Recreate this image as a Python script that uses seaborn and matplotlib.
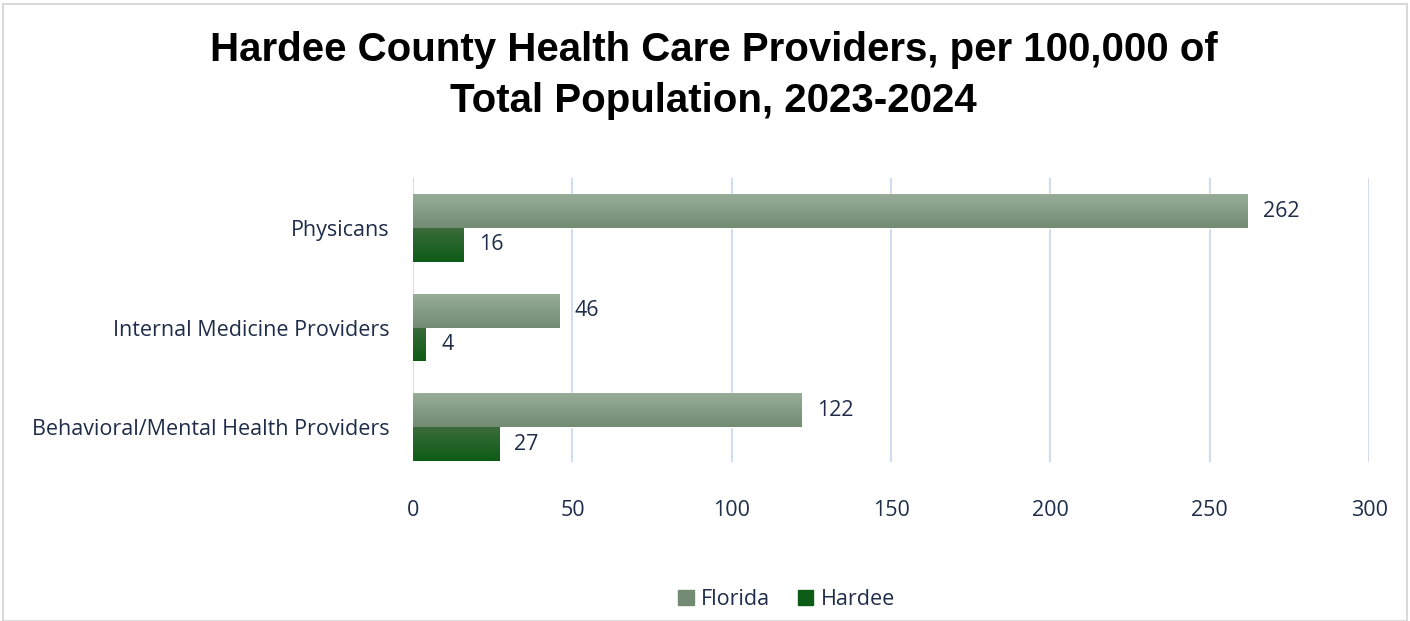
import numpy as np
import pandas as pd
import matplotlib
matplotlib.use("Agg")
import matplotlib.pyplot as plt
import matplotlib.colors as mcolors
from matplotlib.patches import Rectangle
import seaborn as sns

# Data
categories = ["Physicans", "Internal Medicine Providers", "Behavioral/Mental Health Providers"]
florida = [262, 46, 122]
hardee = [16, 4, 27]
series_names = ["Florida", "Hardee"]

TEXT = "#1f2d4a"
FLORIDA_TOP, FLORIDA_BOT = "#97ad97", "#728b72"
HARDEE_TOP, HARDEE_BOT = "#3b6b3b", "#0d5c16"


def gradient_fill(ax, bar, top, bottom):
    """Paint a vertical gradient inside a bar patch"""
    x, y = bar.get_x(), bar.get_y()
    w, h = bar.get_width(), bar.get_height()
    cmap = mcolors.LinearSegmentedColormap.from_list("g", [top, bottom])
    grad = np.linspace(0, 1, 64).reshape(-1, 1)
    im = ax.imshow(grad, cmap=cmap, aspect="auto", extent=(x, x + w, y + h, y),
                   origin="upper", zorder=bar.get_zorder())
    im.set_clip_path(bar)
    bar.set_facecolor("none")


def main():
    df = pd.DataFrame({
        "category": categories * 2,
        "value": florida + hardee,
        "series": [series_names[0]] * 3 + [series_names[1]] * 3,
    })

    sns.set_style("white")
    plt.rcParams["font.family"] = ["Open Sans", "DejaVu Sans"]

    fig = plt.figure(figsize=(14.1, 6.21), dpi=100)
    ax = fig.add_axes([0.293, 0.256, 0.678, 0.457])

    sns.barplot(data=df, y="category", x="value", hue="series", order=categories,
                hue_order=series_names, palette=[FLORIDA_BOT, HARDEE_BOT],
                width=0.68, orient="h", ax=ax, legend=False)

    ax.grid(axis="x", color="#c9dbef", linewidth=1.3)
    ax.set_axisbelow(True)
    for s in ax.spines.values():
        s.set_visible(False)
    ax.tick_params(axis="both", length=0, labelsize=15.5, labelcolor=TEXT)
    ax.tick_params(axis="x", pad=27)
    ax.tick_params(axis="y", pad=17)
    ax.set_xlabel("")
    ax.set_ylabel("")

    # gradients and value labels
    for container, (top, bot) in zip(ax.containers, [(FLORIDA_TOP, FLORIDA_BOT), (HARDEE_TOP, HARDEE_BOT)]):
        for bar in container:
            gradient_fill(ax, bar, top, bot)
        ax.bar_label(container, labels=[f"{v:.0f}" for v in container.datavalues],
                     padding=11, fontsize=15.5, color=TEXT)
    ax.set_xlim(0, 300)
    ax.set_xticks(range(0, 301, 50))
    ax.set_ylim(2.35, -0.5)

    fig.suptitle("Hardee County Health Care Providers, per 100,000 of\nTotal Population, 2023-2024",
                 x=0.506, y=0.95, fontsize=29, fontweight="bold", family="Liberation Sans",
                 color="black", linespacing=1.43)

    handles = [Rectangle((0, 0), 1, 1, color=FLORIDA_BOT), Rectangle((0, 0), 1, 1, color=HARDEE_BOT)]
    fig.legend(handles, series_names, loc="lower center", bbox_to_anchor=(0.558, -0.014),
               ncol=2, frameon=False, fontsize=15.5, labelcolor=TEXT,
               handlelength=0.7, handleheight=0.7, handletextpad=0.35, columnspacing=1.3)

    fig.patches.append(Rectangle((0.002, 0.0), 0.996, 0.993, transform=fig.transFigure,
                                 fill=False, edgecolor="#d9d9d9", linewidth=1.5))

    fig.savefig("out.png", dpi=100)
    plt.close(fig)


if __name__ == "__main__":
    main()
